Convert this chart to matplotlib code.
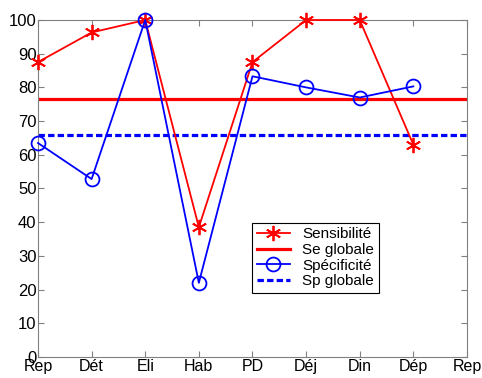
import matplotlib
matplotlib.use('Agg')
import matplotlib.pyplot as plt
import numpy as np

plt.rcParams['font.family'] = ['Liberation Sans', 'DejaVu Sans']

labels = ['Rep', 'Dét', 'Eli', 'Hab', 'PD', 'Déj', 'Din', 'Dép', 'Rep']
sensibilite = [87.5, 96.3, 100, 38.5, 87.5, 100, 100, 63]
specificite = [63.5, 52.8, 100, 22, 83.3, 80, 77, 80.3]
se_globale = 76.7
sp_globale = 65.9

x = np.arange(len(sensibilite))

fig = plt.figure(figsize=(4.82, 3.78), dpi=100)
ax = fig.add_axes([0.0788, 0.0556, 0.8900, 0.8915])

ax.plot(x, sensibilite, color='red', lw=1.3, marker=(6, 2, 0), ms=11,
        mew=1.3, label='Sensibilité', clip_on=False, zorder=3)
ax.axhline(se_globale, color='red', lw=2.3, label='Se globale')
ax.plot(x, specificite, color='blue', lw=1.3, marker='o', ms=10,
        mfc='none', mew=1.3, label='Spécificité', clip_on=False, zorder=3)
ax.axhline(sp_globale, color='blue', lw=2.3, ls=(0, (2, 1)), label='Sp globale')

ax.set_xlim(0, 8)
ax.set_ylim(0, 100)
ax.set_xticks(np.arange(len(labels)))
ax.set_xticklabels(labels)
ax.set_yticks(np.arange(0, 101, 10))
ax.tick_params(direction='in', top=True, right=True, length=4, color='gray',
               labelsize=12, pad=1)
ax.tick_params(axis='x', pad=1.5, labelsize=11.5)
for s in ax.spines.values():
    s.set_color('gray')

leg = ax.legend(loc='upper left', bbox_to_anchor=(0.499, 0.398), fontsize=11,
                fancybox=False, edgecolor='black', framealpha=1,
                handlelength=2.2, borderpad=0.3, labelspacing=0.1,
                borderaxespad=0)
leg.get_frame().set_linewidth(0.8)

fig.savefig('out.png', dpi=100)
